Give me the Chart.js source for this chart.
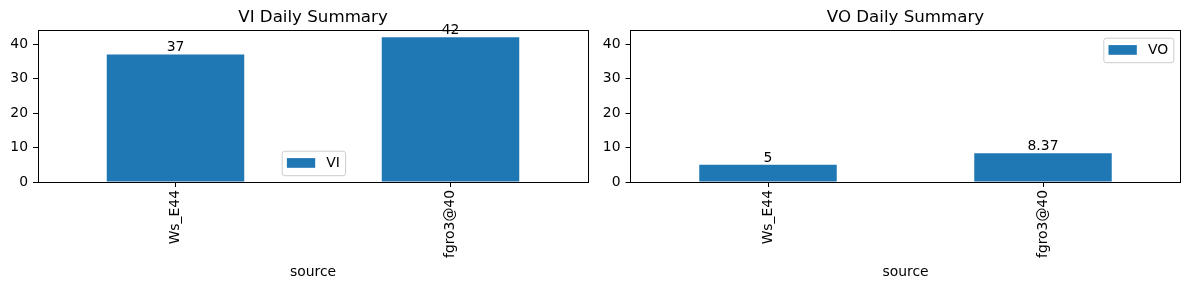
<!DOCTYPE html>
<html><head><meta charset="utf-8">
<script src="https://cdn.jsdelivr.net/npm/chart.js@4"></script>
<style>
html,body{margin:0;padding:0;background:#fff;}
#wrap{position:relative;width:1189px;height:290px;overflow:hidden;background:#fff;}
canvas{position:absolute;left:0;top:0;}
</style></head><body>
<div id="wrap"><canvas id="c1" width="1189" height="290"></canvas><canvas id="c2" width="1189" height="290"></canvas></div>
<script>
const categories = ['Ws_E44', 'fgro3@40'];
const viValues = [37, 42];
const voValues = [5, 8.37];
const yTickValues = [0, 10, 20, 30, 40];
const yMax = 44.1;
const seriesNames = ['VI', 'VO'];
const titles = ['VI Daily Summary', 'VO Daily Summary'];
const xAxisTitle = 'source';

const FONT = 'DejaVu Sans';
const FS = 13.9;
const BLUE = '#1f77b4';

const mplPlugin = {
  id: 'mplDecor',
  afterDraw(chart, args, opts) {
    const ctx = chart.ctx, a = chart.chartArea;
    ctx.save();
    // frame (all four spines)
    ctx.strokeStyle = '#000';
    ctx.lineWidth = 1;
    const l = Math.floor(a.left) + 0.5, r = Math.floor(a.right) + 0.5;
    const t = Math.floor(a.top) + 0.5, b = Math.floor(a.bottom) + 0.5;
    ctx.strokeRect(l, t, r - l, b - t);
    // bar value labels
    const ds = chart.data.datasets[0];
    const meta = chart.getDatasetMeta(0);
    ctx.font = FS + 'px "' + FONT + '"';
    ctx.fillStyle = '#000';
    ctx.textAlign = 'center';
    ctx.textBaseline = 'alphabetic';
    meta.data.forEach((bar, i) => {
      ctx.fillText(String(ds.data[i]), bar.x, bar.y - 3);
    });
    // legend
    const lg = opts.legend;
    const name = ds.label;
    const tw = ctx.measureText(name).width;
    const pad = 5.2, hw = 28.3, hh = 9.7, gap = 11.1, h = 24.5;
    const w = pad + hw + gap + tw + pad;
    const bx = lg.anchor === 'right' ? a.right - lg.dx - w : a.left + lg.dx;
    const by = a.top + lg.dy;
    ctx.beginPath();
    ctx.roundRect(bx + 0.5, by + 0.5, w, h, 2.5);
    ctx.fillStyle = 'rgba(255,255,255,0.8)';
    ctx.fill();
    ctx.strokeStyle = '#cccccc';
    ctx.stroke();
    const cy = by + h / 2;
    ctx.fillStyle = BLUE;
    ctx.fillRect(bx + pad, cy - hh / 2, hw, hh);
    ctx.fillStyle = '#000';
    ctx.textAlign = 'left';
    ctx.textBaseline = 'middle';
    ctx.fillText(name, bx + pad + hw + gap, cy + 0.5);
    ctx.restore();
  }
};

function makeChart(id, values, name, title, padLeft, padRight, legendOpts) {
  return new Chart(document.getElementById(id), {
    type: 'bar',
    data: {
      labels: categories,
      datasets: [{
        label: name,
        data: values,
        backgroundColor: BLUE,
        borderWidth: 0,
        inflateAmount: 0,
        barPercentage: 0.5,
        categoryPercentage: 1.0
      }]
    },
    options: {
      responsive: false,
      animation: false,
      events: [],
      layout: { padding: { left: padLeft, right: padRight, top: 0, bottom: 0 } },
      plugins: {
        legend: { display: false },
        tooltip: { enabled: false },
        title: {
          display: true,
          text: title,
          fullSize: false,
          color: '#000',
          font: { family: FONT, size: 16.67, weight: 'normal' },
          padding: { top: 8, bottom: 2 }
        },
        mplDecor: { legend: legendOpts }
      },
      scales: {
        x: {
          type: 'category',
          offset: true,
          afterFit: s => { s.height = 108; },
          border: { display: false },
          grid: { offset: false, drawOnChartArea: false, drawTicks: true, tickLength: 5, tickColor: '#000', tickWidth: 1 },
          ticks: {
            color: '#000', font: { family: FONT, size: FS },
            minRotation: 90, maxRotation: 90, padding: 3, autoSkip: false
          },
          title: {
            display: true, text: xAxisTitle, color: '#000',
            font: { family: FONT, size: FS }, padding: { top: 0, bottom: 9 }
          }
        },
        y: {
          min: 0, max: yMax,
          afterFit: s => { s.width = 38; },
          afterBuildTicks: s => { s.ticks = yTickValues.map(v => ({ value: v })); },
          border: { display: false },
          grid: { drawOnChartArea: false, drawTicks: true, tickLength: 5, tickColor: '#000', tickWidth: 1 },
          ticks: { color: '#000', font: { family: FONT, size: FS }, padding: 5 }
        }
      }
    },
    plugins: [mplPlugin]
  });
}

makeChart('c1', viValues, seriesNames[0], titles[0], 0, 601, { anchor: 'left', dx: 243.7, dy: 120.7 });
makeChart('c2', voValues, seriesNames[1], titles[1], 592.5, 8.5, { anchor: 'right', dx: 7.2, dy: 7.7 });
</script>
</body></html>
